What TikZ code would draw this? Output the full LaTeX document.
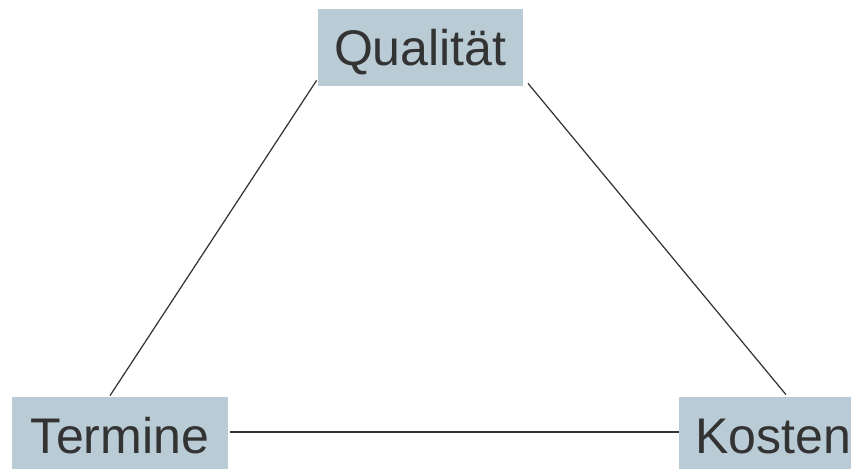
\documentclass[tikz,border=0pt]{standalone}
\usepackage{fontspec}
\setmainfont{Liberation Sans}
\definecolor{boxblue}{RGB}{185, 203, 213}
\definecolor{inkgray}{RGB}{51, 51, 51}
\usetikzlibrary{calc}

\tikzset{
  goalbox/.style={fill=boxblue, text=inkgray, inner sep=0pt, minimum height=1.54cm,
    text height=20.3pt, text depth=0pt, font=\fontsize{28.5}{30}\selectfont},
  tieline/.style={draw=inkgray, line width=0.7pt}
}

\begin{document}
\begin{tikzpicture}[x=0.02cm, y=-0.02cm]
  \clip (0,0) rectangle (851,469);
  \useasboundingbox (0,0) rectangle (851,469);

  % Triangle corners
  \node[goalbox, minimum width=4.094cm] (q) at (420.3, 47.5) {Qualität};
  \node[goalbox, minimum width=4.32cm] (t) at (120, 435.5) {Termine};
  \node[goalbox, minimum width=3.76cm] (k) at (773, 435.5) {Kosten};

  % Edges
  \draw[tieline] ($(q.south west)+(-1,-6)$) -- ($(t.north)+(-10,-1)$);
  \draw[tieline] ($(q.south east)+(5,-3)$) -- ($(k.north)+(13,-2)$);
  \draw[tieline] ($(t.east)+(2,-3.5)$) -- ($(k.west)+(0,-3.5)$);
\end{tikzpicture}
\end{document}
